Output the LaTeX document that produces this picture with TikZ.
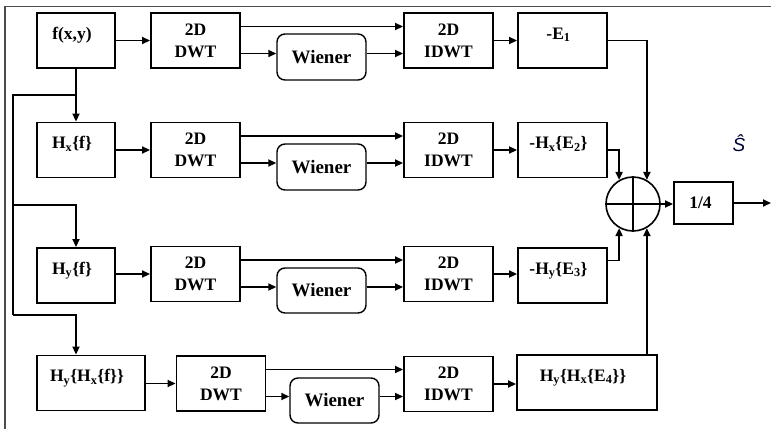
\documentclass[tikz,border=0pt]{standalone}
\usepackage{fontspec}
\setmainfont{Liberation Serif}
\newfontfamily\hatfont{Liberation Sans}
\usetikzlibrary{arrows.meta}
\tikzset{
  blk/.style={draw, line width=1.9pt, inner sep=0pt, minimum height=55pt, minimum width=89pt, align=center,
    font=\bfseries\fontsize{17.5}{22}\selectfont},
  topt/.style={blk, text height=26pt, text depth=29pt, execute at end node=\hspace*{8pt}},
  wien/.style={draw, line width=1.4pt, rounded corners=8pt, inner sep=0pt, minimum width=89pt, minimum height=46pt,
    font=\bfseries\fontsize{19}{22}\selectfont},
  sumnode/.style={draw, circle, line width=1.6pt, minimum size=54pt, inner sep=0pt},
  arr/.style={line width=1.8pt, -{Triangle[length=8pt,width=7pt]}},
  ln/.style={line width=1.8pt},
  frame/.style={line width=1.6pt, draw=black!70}
}
\begin{document}
\begin{tikzpicture}[x=1pt,y=-1pt]
\useasboundingbox (0,0) rectangle (771,429);
\draw[frame] (5,429) -- (5,6.5) -- (771,6.5);
% row 1
\node[topt, minimum width=78pt] (f) at (76,40.5) {f(x,y)};
\node[blk] (d1) at (195.5,40.5) {2D\\DWT};
\node[wien] (w1) at (321.5,57) {Wiener};
\node[blk] (i1) at (448.5,40.5) {2D\\IDWT};
\node[topt] (e1) at (562.5,40.5) {-E\textsubscript{1}};
% row 2
\node[topt, minimum width=78pt] (hx) at (76,150) {H\textsubscript{x}\{f\}};
\node[blk] (d2) at (195.5,150) {2D\\DWT};
\node[wien] (w2) at (321.5,167) {Wiener};
\node[blk] (i2) at (448.5,150) {2D\\IDWT};
\node[topt] (e2) at (562.5,150) {-H\textsubscript{x}\{E\textsubscript{2}\}};
% row 3
\node[topt, minimum width=78pt] (hy) at (76,275.5) {H\textsubscript{y}\{f\}};
\node[blk] (d3) at (195.5,274) {2D\\DWT};
\node[wien, minimum height=45pt] (w3) at (321.5,290.5) {Wiener};
\node[blk] (i3) at (448.5,274) {2D\\IDWT};
\node[topt] (e3) at (562.5,275.5) {-H\textsubscript{y}\{E\textsubscript{3}\}};
% row 4
\node[topt, minimum width=108pt] (hyhx) at (91,383) {H\textsubscript{y}\{H\textsubscript{x}\{f\}\}};
\node[blk] (d4) at (221,383.5) {2D\\DWT};
\node[wien, minimum height=45pt] (w4) at (334.5,400.5) {Wiener};
\node[blk] (i4) at (448.5,384) {2D\\IDWT};
\node[topt, minimum width=140pt] (e4) at (587,382.5) {H\textsubscript{y}\{H\textsubscript{x}\{E\textsubscript{4}\}\}};
% sum and output
\node[sumnode] (sum) at (633,204) {};
\draw[line width=1.6pt] (sum.north) -- (sum.south) (sum.west) -- (sum.east);
\node[blk, minimum width=59pt, minimum height=42pt] (q) at (703.5,203) {1/4\hspace*{6pt}};
\coordinate (out) at (771,203);
\node[font=\hatfont\itshape\fontsize{19}{19}\selectfont, text=black!80!blue, inner sep=0pt] (shat) at (739,143) {Ŝ};
% left distribution tree
\coordinate (t1) at (13,95);
\coordinate (t2) at (13,205);
\coordinate (t3) at (13,315);
\draw[arr] (f.south) -- (hx.north);
\draw[ln] (f.south |- t1) -- (t1) -- (t3);
\draw[arr] (t2) -| (hy.north);
\draw[arr] (t3) -| (f.south |- hyhx.north);
% row connectors
\foreach \a/\d/\w/\i/\e in {f/d1/w1/i1/e1, hx/d2/w2/i2/e2, hy/d3/w3/i3/e3, hyhx/d4/w4/i4/e4}{
  \draw[arr] (\a.east |- \d.west) -- (\d.west);
  \draw[arr] ([yshift=14pt]\d.east) -- ([yshift=14pt]\d.east -| \i.west);
  \draw[arr] ([yshift=-13pt]\d.east) -- ([yshift=-13pt]\d.east -| \w.west);
  \draw[arr] ([yshift=-13pt]\d.east -| \w.east) -- ([yshift=-13pt]\d.east -| \i.west);
  \draw[arr] (\i.east) -- (\i.east -| \e.west);
}
% into the summer
\draw[arr] (e1.east) -| (sum.60);
\draw[arr] (e2.east) -| (sum.120);
\draw[arr] ([yshift=15pt]e3.east) -| (sum.-120);
\draw[arr] (e4.north -| sum.-60) -- (sum.-60);
\draw[arr] (sum.east) -- (sum.east -| q.west);
\draw[arr] (q.east) -- (out);
\end{tikzpicture}
\end{document}
